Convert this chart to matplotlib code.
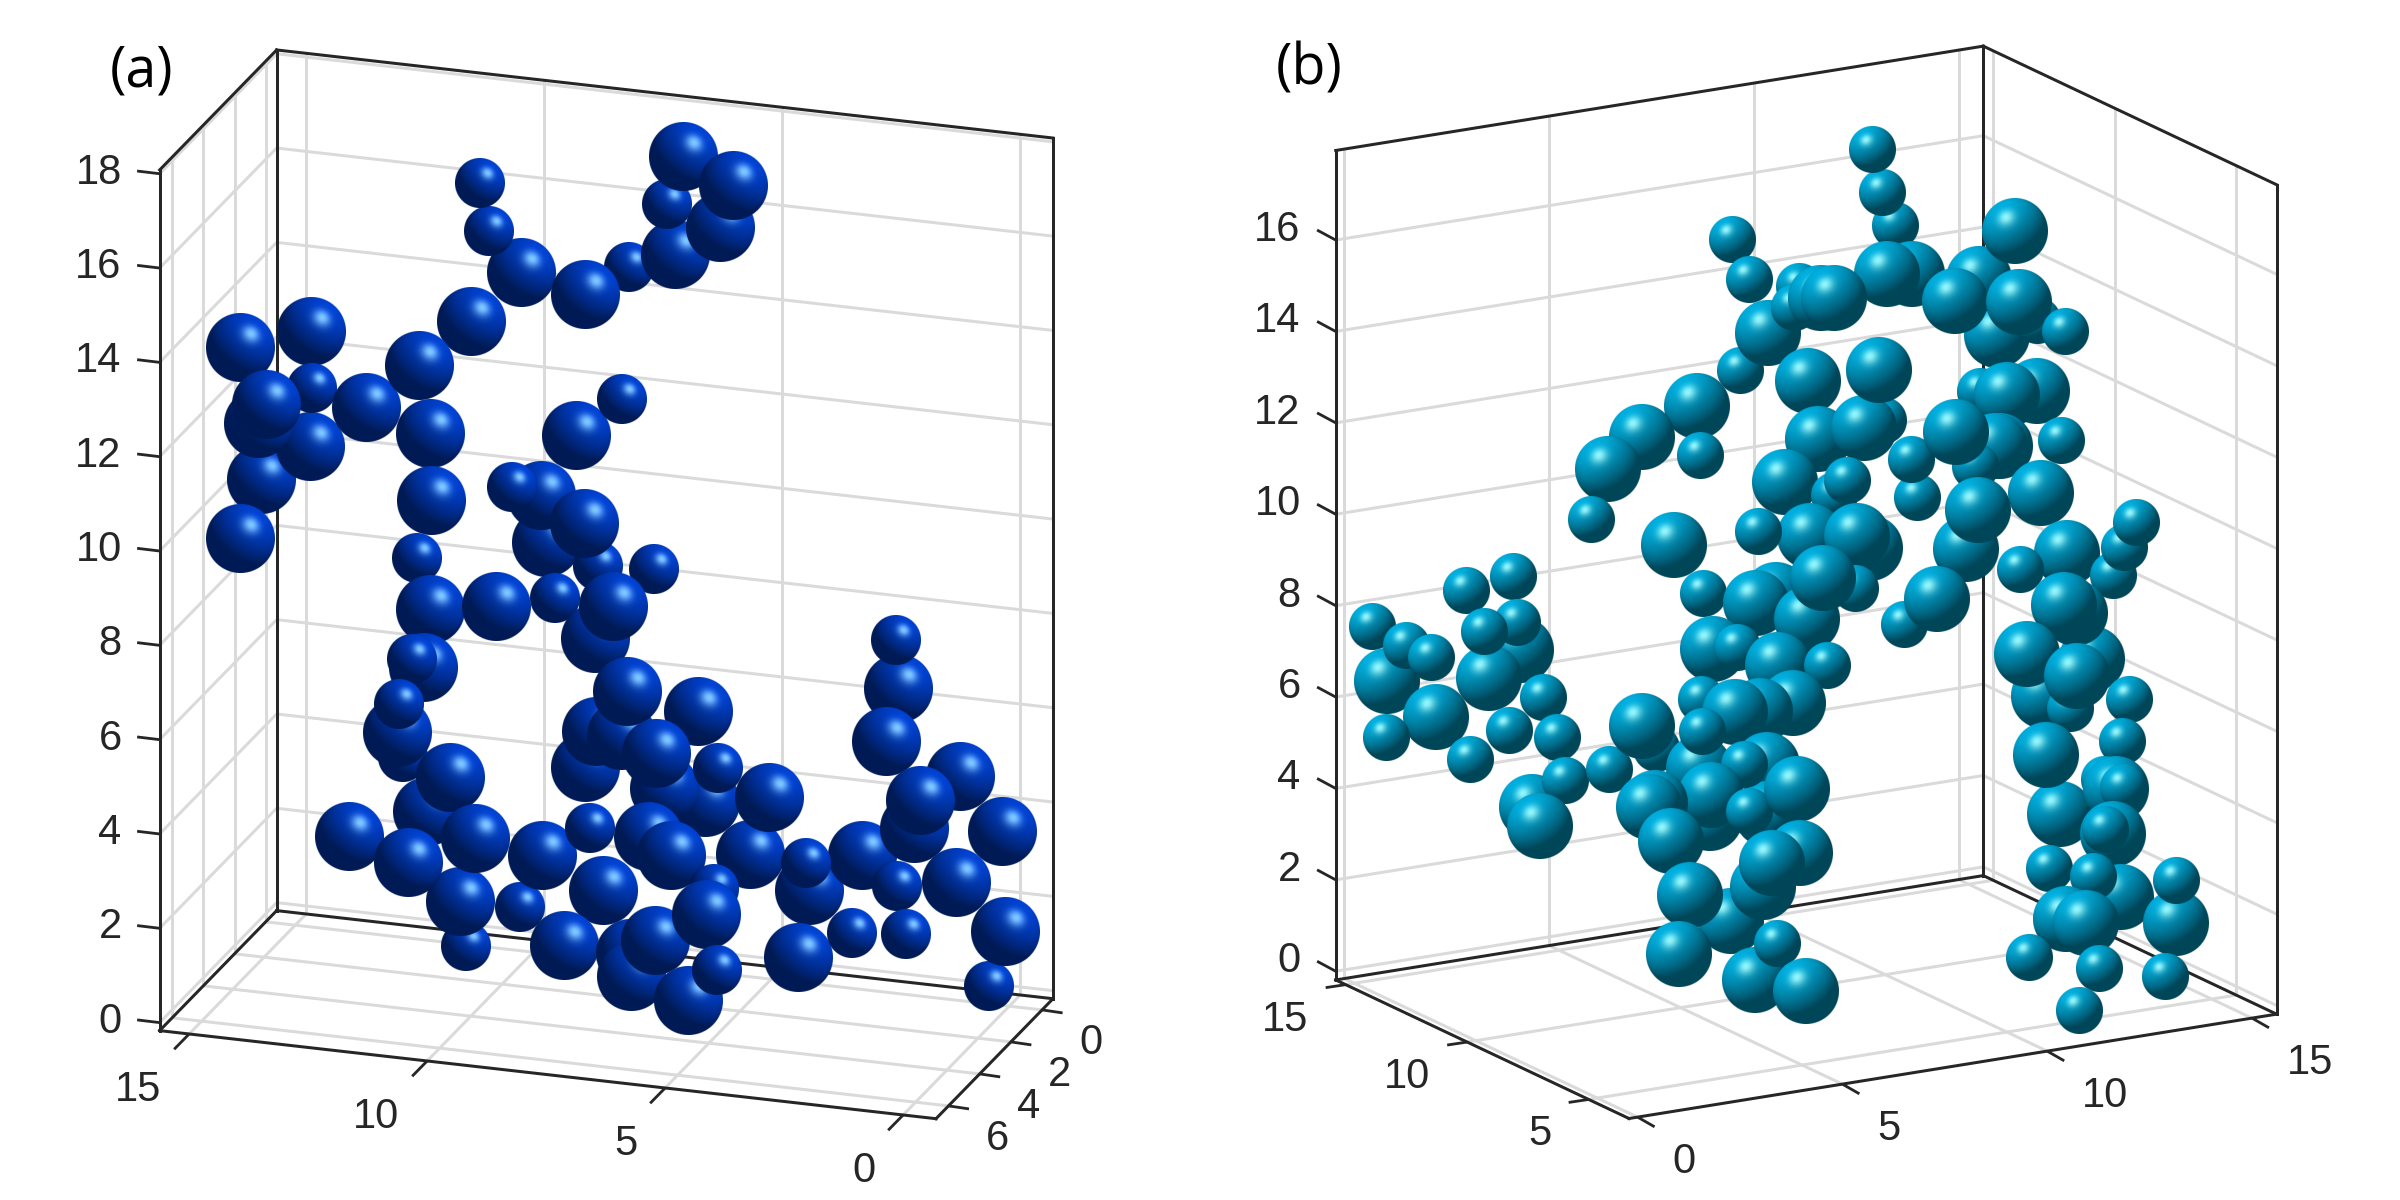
import numpy as np
import matplotlib
matplotlib.use('Agg')
import matplotlib.pyplot as plt

# tick values of both panels
a_x_ticks = [0, 5, 10, 15]
a_y_ticks = [0, 2, 4, 6]
a_z_ticks = [0, 2, 4, 6, 8, 10, 12, 14, 16, 18]
b_x_ticks = [0, 5, 10, 15]
b_y_ticks = [5, 10, 15]
b_z_ticks = [0, 2, 4, 6, 8, 10, 12, 14, 16]

# sphere centres as seen on the picture (px), listed from back to front
a_sphere_x = [629, 675, 720, 667, 683, 733, 521, 489, 480, 585, 471,
              240, 311, 261, 310, 312, 258, 266, 366, 419, 430, 431, 240,
              576, 622, 546, 541, 512, 598, 584, 654, 417, 555, 430, 496,
              595, 613, 423, 412, 403, 397, 399, 427, 450, 349, 466, 460,
              408, 475, 520, 542, 590, 585, 596, 621, 627, 698, 705, 664,
              656, 718, 750, 769, 648, 671, 603, 564, 714, 630, 631, 655,
              706, 688, 717, 809, 798, 862, 806, 897, 852, 906, 898, 896,
              886, 960, 914, 920, 1002, 956, 989, 1005]
a_sphere_y = [267, 255, 228, 204, 157, 186, 273, 231, 183, 295, 322,
              348, 332, 480, 447, 388, 424, 405, 408, 366, 434, 501, 539,
              436, 399, 543, 496, 487, 566, 524, 569, 558, 598, 610, 607,
              639, 607, 668, 659, 757, 733, 704, 812, 778, 837, 946, 902,
              863, 839, 907, 856, 828, 768, 732, 736, 692, 712, 803, 789,
              754, 768, 855, 798, 837, 856, 891, 946, 889, 954, 977, 941,
              915, 1001, 970, 891, 958, 856, 863, 886, 933, 934, 689, 640,
              742, 777, 829, 801, 832, 883, 986, 932]
a_sphere_big = [0, 1, 1, 0, 1, 1, 1, 0, 0, 1, 1,
                1, 1, 1, 1, 0, 1, 1, 1, 1, 1, 1, 1,
                1, 0, 1, 1, 0, 0, 1, 0, 0, 0, 1, 1,
                1, 1, 1, 0, 0, 1, 0, 1, 1, 1, 0, 1,
                1, 1, 0, 1, 0, 1, 1, 1, 1, 1, 1, 1,
                1, 0, 1, 1, 1, 1, 1, 1, 0, 1, 1, 1,
                1, 1, 0, 1, 1, 1, 0, 0, 0, 0, 1, 0,
                1, 1, 1, 1, 1, 1, 0, 1]

b_sphere_x = [1895, 1882, 1872, 1912, 1887, 1732, 1749, 1740, 1768, 1799, 1794, 1821, 1834,
              1997, 1979, 1955, 2015, 2037, 2019, 2065, 1808, 1818, 1883, 1864, 1879,
              1785, 1697, 1642, 1608, 1700, 1591, 1674, 1917, 1911, 1980, 2037, 2007, 2000,
              1995, 1975, 1956, 2061, 2041, 1966, 1978, 1834, 1847, 1810, 1870, 1857, 1758,
              2067, 2113, 2124, 2136, 2020, 1904, 1937, 1855, 1466, 1513,
              1372, 1387, 1406, 1431, 1436, 1386, 1521, 1517, 1489, 1484, 1543, 1509, 1557, 1470,
              1532, 1565, 1540, 1609, 1656, 1642, 1703, 1776, 1756, 1713, 1737, 1807, 1823, 1778, 1827,
              1793, 1760, 1701, 1735, 1699, 1702, 1767, 1767, 1744, 1710, 1711, 1749, 1797,
              1655, 1649, 1671, 1800, 1731, 1690, 1763, 1772, 1679, 1755, 1777, 1806,
              2092, 2075, 2064, 2044, 2027, 2070, 2077, 2129, 2122, 2060, 2046, 2104, 2116, 2123,
              2113, 2105, 2121, 2049, 2093, 2176, 2176, 2066, 2086, 2029, 2165, 2099, 2079]
b_sphere_y = [226, 193, 150, 274, 274, 240, 280, 371, 333, 287, 308, 298, 298,
              335, 279, 301, 231, 321, 302, 332, 381, 439, 421, 428, 370,
              482, 406, 437, 469, 456, 520, 545, 498, 460, 392, 391, 395, 446,
              446, 467, 432, 441, 493, 549, 510, 496, 481, 536, 548, 536, 532,
              553, 576, 548, 523, 570, 625, 599, 589, 591, 577,
              627, 681, 646, 658, 717, 738, 650, 623, 678, 632, 698, 731, 738, 760,
              807, 781, 826, 770, 749, 726, 594, 595, 603, 649, 648, 619, 578, 665, 666,
              703, 711, 700, 712, 768, 732, 765, 814, 765, 818, 795, 812, 789,
              803, 807, 841, 853, 921, 895, 887, 863, 954, 980, 944, 991,
              659, 613, 605, 696, 654, 709, 676, 700, 742, 814, 755, 780, 789, 788,
              834, 830, 897, 869, 877, 923, 881, 919, 923, 958, 977, 969, 1011]
b_sphere_big = [0, 0, 0, 1, 1, 0, 0, 0, 1, 0, 0, 1, 1,
                1, 1, 1, 1, 0, 1, 0, 1, 1, 0, 1, 1,
                1, 1, 1, 1, 0, 0, 1, 0, 0, 0, 1, 1, 1,
                1, 0, 1, 0, 1, 1, 1, 0, 0, 1, 1, 1, 0,
                1, 0, 0, 0, 0, 0, 1, 0, 0, 0,
                0, 1, 0, 0, 1, 0, 1, 0, 1, 0, 0, 0, 0, 0,
                1, 0, 1, 0, 0, 1, 0, 1, 1, 1, 0, 1, 1, 1, 0,
                1, 1, 0, 1, 1, 0, 1, 1, 0, 1, 1, 0, 1,
                1, 1, 1, 1, 1, 1, 1, 1, 1, 1, 0, 1,
                1, 1, 1, 1, 1, 0, 1, 0, 0, 1, 1, 0, 1, 0,
                1, 0, 1, 0, 0, 1, 0, 1, 1, 0, 0, 0, 0]

grid_color = '#dadada'
frame_color = '#262626'
px = 0.72  # one picture pixel in points at dpi 100


def make_sphere(r, base, spec, hx, hy):
    n = int(4 * r)
    u = (np.arange(n) + 0.5) / n * 2 - 1
    xx, yy = np.meshgrid(u, -u)
    d = np.sqrt(xx * xx + yy * yy)
    nx = xx / np.maximum(d, 1.0)
    ny = yy / np.maximum(d, 1.0)
    nz = np.sqrt(np.clip(1 - nx * nx - ny * ny, 0, 1))
    hz = np.sqrt(1 - hx * hx - hy * hy)
    lx, ly, lz = 2 * hz * hx, 2 * hz * hy, 2 * hz * hz - 1
    diff = np.clip(nx * lx + ny * ly + nz * lz, 0, 1)
    hl = np.clip(nx * hx + ny * hy + nz * hz, 0, 1) ** 30
    img = np.zeros((n, n, 4))
    for c in range(3):
        img[:, :, c] = np.clip(base[c] * (0.42 + 0.62 * diff) + spec[c] * hl, 0, 1)
    img[:, :, 3] = np.clip((1 - d) * r * 2 + 0.5, 0, 1)
    return img


def draw_spheres(ax, xs, ys, bigs, radii, base, spec, hx, hy):
    big_img = make_sphere(radii[1], base, spec, hx, hy)
    small_img = make_sphere(radii[0], base, spec, hx, hy)
    for i in range(len(xs)):
        r = radii[bigs[i]]
        img = big_img if bigs[i] else small_img
        ax.imshow(img, extent=(xs[i] - r, xs[i] + r, ys[i] + r, ys[i] - r),
                  aspect='auto', zorder=5 + i * 0.001, interpolation='hanning')


def project(box, x, y, z):
    return (box['o'][0] + x * box['ex'][0] + y * box['ey'][0] + z * box['ez'][0],
            box['o'][1] + x * box['ex'][1] + y * box['ey'][1] + z * box['ez'][1])


def line3(ax, box, p, q, color, lw, zorder):
    a = project(box, *p)
    b = project(box, *q)
    ax.plot([a[0], b[0]], [a[1], b[1]], color=color, lw=lw * px, zorder=zorder,
            solid_capstyle='projecting' if zorder > 3 else 'butt')


def draw_grid(ax, box, xt, yt, zt, wall_x, wall_y):
    x0, x1 = box['xlim']
    y0, y1 = box['ylim']
    z0, z1 = box['zlim']
    for v in xt:
        line3(ax, box, (v, wall_y, z0), (v, wall_y, z1), grid_color, 3.0, 1)
        line3(ax, box, (v, y0, z0), (v, y1, z0), grid_color, 3.0, 1)
    for v in yt:
        line3(ax, box, (wall_x, v, z0), (wall_x, v, z1), grid_color, 3.0, 1)
        line3(ax, box, (x0, v, z0), (x1, v, z0), grid_color, 3.0, 1)
    for v in zt:
        line3(ax, box, (x0, wall_y, v), (x1, wall_y, v), grid_color, 3.0, 1)
        line3(ax, box, (wall_x, y0, v), (wall_x, y1, v), grid_color, 3.0, 1)


def draw_ticks(ax, pts, labels, tick, off, ha, va='center'):
    for p, lab in zip(pts, labels):
        ax.plot([p[0], p[0] + tick[0]], [p[1], p[1] + tick[1]], color=frame_color,
                lw=2.8 * px, zorder=3, solid_capstyle='butt')
        ax.text(p[0] + off[0], p[1] + off[1], str(lab), ha=ha, va=va, color=frame_color,
                fontsize=30, family='Liberation Sans', zorder=20)


plt.figure(figsize=(24, 12), dpi=100)
ax = plt.axes([0, 0, 1, 1])
ax.set_axis_off()
ax.autoscale(False)
ax.set_xlim(0, 2400)
ax.set_ylim(1200, 0)

# panel (a)
box_a = {'ex': (-47.6, -5.4), 'ey': (-15.6, 16.0), 'ez': (0, -47.16),
         'xlim': (-0.69, 15.62), 'ylim': (-0.7, 6.8), 'zlim': (-0.17, 18.08)}
box_a['o'] = (1053 - 0.69 * 47.6 - 0.7 * 15.6,
              998.7 - 0.69 * 5.4 + 0.7 * 16.0 - 0.17 * 47.16)
x0, x1 = box_a['xlim']
y0, y1 = box_a['ylim']
z0, z1 = box_a['zlim']
draw_grid(ax, box_a, a_x_ticks, a_y_ticks, a_z_ticks, x1, y0)
for p, q in [((x1, y1, z0), (x1, y1, z1)), ((x1, y1, z1), (x1, y0, z1)),
             ((x1, y0, z1), (x0, y0, z1)), ((x0, y0, z1), (x0, y0, z0)),
             ((x1, y0, z0), (x1, y0, z1)), ((x1, y1, z0), (x1, y0, z0)),
             ((x1, y0, z0), (x0, y0, z0)), ((x1, y1, z0), (x0, y1, z0)),
             ((x0, y1, z0), (x0, y0, z0))]:
    line3(ax, box_a, p, q, frame_color, 3.0, 4)
draw_ticks(ax, [project(box_a, v, y1, z0) for v in a_x_ticks], a_x_ticks, (-15, 15.3), (-28, 56), 'right')
draw_ticks(ax, [project(box_a, x0, v, z0) for v in a_y_ticks], a_y_ticks, (20.5, 3), (37, 33), 'left')
draw_ticks(ax, [project(box_a, x1, y1, v) for v in a_z_ticks], a_z_ticks, (-22.5, -2.7), (-38, -1), 'right')
draw_spheres(ax, a_sphere_x, a_sphere_y, a_sphere_big, (24.6, 34.5),
             (0.0, 0.25, 0.8), (0.5, 0.55, 0.3), 0.31, 0.40)
ax.text(110, 72, '(a)', fontsize=40, family='Open Sans', color='black', ha='left', va='center', zorder=20)

# panel (b)
box_b = {'ex': (40.96, -6.6), 'ey': (-24.3, -11.48), 'ez': (0, -45.7),
         'xlim': (-0.21, 15.6), 'ylim': (3.34, 15.41), 'zlim': (-0.19, 17.96)}
box_b['o'] = (1629 + 0.21 * 40.96 + 3.34 * 24.3,
              1118.5 - 0.21 * 6.6 + 3.34 * 11.48 - 0.19 * 45.7)
x0, x1 = box_b['xlim']
y0, y1 = box_b['ylim']
z0, z1 = box_b['zlim']
draw_grid(ax, box_b, b_x_ticks, b_y_ticks, b_z_ticks, x1, y1)
for p, q in [((x0, y1, z0), (x0, y1, z1)), ((x0, y1, z1), (x1, y1, z1)),
             ((x1, y1, z1), (x1, y0, z1)), ((x1, y0, z1), (x1, y0, z0)),
             ((x1, y1, z0), (x1, y1, z1)), ((x0, y1, z0), (x1, y1, z0)),
             ((x1, y1, z0), (x1, y0, z0)), ((x0, y1, z0), (x0, y0, z0)),
             ((x0, y0, z0), (x1, y0, z0))]:
    line3(ax, box_b, p, q, frame_color, 3.0, 4)
draw_ticks(ax, [project(box_b, v, y0, z0) for v in b_x_ticks], b_x_ticks, (17, 9.7), (35, 45), 'left')
draw_ticks(ax, [project(box_b, x0, v, z0) for v in b_y_ticks], b_y_ticks, (-20, 3), (-37, 35), 'right')
draw_ticks(ax, [project(box_b, x0, y1, v) for v in b_z_ticks], b_z_ticks, (-18.6, -10), (-35, -10), 'right')
draw_spheres(ax, b_sphere_x, b_sphere_y, b_sphere_big, (23.2, 32.7),
             (0.0, 0.66, 0.84), (0.58, 0.33, 0.18), -0.27, 0.41)
ax.text(1276, 70, '(b)', fontsize=40, family='Open Sans', color='black', ha='left', va='center', zorder=20)

plt.savefig('out.png', dpi=100)
plt.close()
